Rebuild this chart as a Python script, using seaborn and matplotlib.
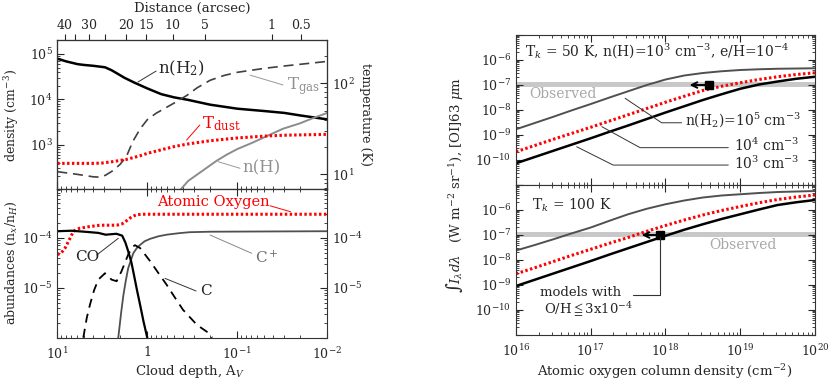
import numpy as np
import matplotlib
matplotlib.use("Agg")
import matplotlib.pyplot as plt
import matplotlib.ticker as mticker
import seaborn as sns

# ---- left panels: cloud depth profiles ----
h2_av = [10, 8, 6, 5.1, 4, 2.95, 2.5, 2.2, 1.8, 1.4, 1.0, 0.7, 0.5, 0.36, 0.2, 0.1, 0.05, 0.03, 0.02, 0.01]
h2_n = [7.9e4, 6.9e4, 6.0e4, 5.75e4, 5.5e4, 5.1e4, 4.4e4, 3.8e4, 3.0e4, 2.35e4, 1.74e4, 1.3e4,
        1.1e4, 9.8e3, 7.6e3, 6.2e3, 5.5e3, 5.0e3, 4.4e3, 3.6e3]

h_av = [0.45, 0.35, 0.26, 0.2, 0.17, 0.13, 0.1, 0.07, 0.05, 0.031, 0.02, 0.015, 0.01]
h_n = [90, 158, 240, 347, 437, 603, 794, 1070, 1450, 2240, 2950, 3720, 5010]

tgas_av = [10, 6, 4, 3.3, 2.9, 2.4, 2.0, 1.7, 1.45, 1.2, 1.0, 0.8, 0.6, 0.45, 0.36, 0.28, 0.2,
           0.14, 0.1, 0.05, 0.03, 0.01]
tgas_k = [10.7, 10.0, 9.4, 9.3, 9.8, 11.0, 12.9, 15.8, 22.9, 31.6, 39.8, 46.8, 55.0, 64.6, 74.1,
          89.1, 108, 122, 132, 146, 155, 174]

tdust_av = [10, 6, 4, 3.2, 2.4, 1.7, 1.2, 1.0, 0.7, 0.5, 0.36, 0.2, 0.1, 0.05, 0.03, 0.01]
tdust_k = [13.2, 13.2, 13.2, 13.3, 13.8, 14.6, 16.0, 17.0, 18.6, 20.2, 21.5, 23.4, 25.1, 26.3, 26.9, 27.5]

co_av = [10, 7, 5, 3.5, 2.9, 2.2, 1.9, 1.75, 1.63, 1.5, 1.43, 1.3, 1.2, 1.1, 1.0]
co_ab = [1.35e-4, 1.38e-4, 1.32e-4, 1.25e-4, 1.15e-4, 1.2e-4, 1.1e-4, 8.0e-5, 5.4e-5, 3.2e-5,
         2.1e-5, 8.9e-6, 4.5e-6, 2.1e-6, 1.0e-6]

o_av = [10, 9, 8.2, 7.4, 6.6, 6.0, 5.6, 4.5, 3.35, 2.6, 2.19, 1.9, 1.69, 1.5, 1.31, 1.1, 0.93, 0.5, 0.01]
o_ab = [4.6e-5, 5.0e-5, 6.2e-5, 8.9e-5, 1.35e-4, 1.48e-4, 1.55e-4, 1.66e-4, 1.78e-4, 1.78e-4,
        1.78e-4, 1.9e-4, 2.2e-4, 2.6e-4, 2.9e-4, 2.95e-4, 2.95e-4, 2.95e-4, 2.95e-4]

cp_av = [2.1, 1.95, 1.84, 1.73, 1.63, 1.5, 1.43, 1.3, 1.2, 1.07, 0.93, 0.75, 0.61, 0.45, 0.34, 0.2, 0.01]
cp_ab = [1e-6, 3.2e-6, 7.2e-6, 1.4e-5, 2.45e-5, 3.8e-5, 4.9e-5, 6.3e-5, 7.2e-5, 8.5e-5, 9.5e-5,
         1.07e-4, 1.15e-4, 1.23e-4, 1.29e-4, 1.32e-4, 1.35e-4]

c_av = [5.14, 4.7, 4.33, 3.9, 3.5, 2.95, 2.49, 2.19, 1.93, 1.63, 1.45, 1.37, 1.2, 0.93, 0.75, 0.61,
        0.5, 0.4, 0.28, 0.21, 0.19]
c_ab = [1e-6, 2.5e-6, 4.6e-6, 8.9e-6, 1.45e-5, 1.95e-5, 1.45e-5, 1.35e-5, 2.15e-5, 4.6e-5, 6.6e-5,
        7.1e-5, 6.2e-5, 3.4e-5, 1.95e-5, 1.15e-5, 6.6e-6, 3.6e-6, 1.8e-6, 1.26e-6, 1e-6]

# top axis: distance (arcsec) and the A_V where each tick sits
dist_av = [8.21, 6.36, 4.41, 2.95, 1.73, 1.02, 0.523, 0.229, 0.0415, 0.0198]
dist_lab = ["40", "", "30", "", "20", "15", "10", "5", "1", "0.5"]

# ---- right panels: log10 of [OI]63um intensity vs O column density ----
col_n = [1e16, 1.78e16, 3.16e16, 5.62e16, 1e17, 1.78e17, 3.16e17, 5.62e17, 1e18,
         1.78e18, 3.16e18, 5.62e18, 1e19, 1.78e19, 3.16e19, 5.62e19, 1e20]
log_i50_h2e5 = [-8.77, -8.52, -8.27, -8.01, -7.76, -7.50, -7.25, -7.00, -6.78,
                -6.62, -6.52, -6.45, -6.40, -6.37, -6.35, -6.34, -6.33]
log_i50_h2e4 = [-9.67, -9.42, -9.17, -8.93, -8.69, -8.44, -8.19, -7.94, -7.69,
                -7.45, -7.22, -7.05, -6.91, -6.78, -6.67, -6.58, -6.51]
log_i50_h2e3 = [-10.13, -9.88, -9.63, -9.38, -9.13, -8.87, -8.62, -8.36, -8.10,
                -7.85, -7.60, -7.37, -7.15, -6.98, -6.86, -6.75, -6.67]
log_i100_h2e5 = [-7.62, -7.40, -7.17, -6.93, -6.70, -6.43, -6.17, -5.95, -5.77,
                 -5.62, -5.50, -5.42, -5.37, -5.32, -5.28, -5.26, -5.24]
log_i100_h2e4 = [-8.55, -8.31, -8.06, -7.81, -7.57, -7.33, -7.10, -6.85, -6.62,
                 -6.40, -6.20, -6.02, -5.86, -5.71, -5.58, -5.48, -5.40]
log_i100_h2e3 = [-9.04, -8.79, -8.54, -8.29, -8.04, -7.78, -7.53, -7.28, -7.03,
                 -6.79, -6.57, -6.36, -6.17, -5.98, -5.80, -5.69, -5.60]

obs_lo, obs_hi = 8.5e-8, 1.35e-7
obs50_n, obs50_tip = 3.8e18, 2.1e18
obs100_n, obs100_tip = 8.5e17, 4.8e17
obs_i = 1e-7

sns.set_style("ticks")
plt.rcParams["font.family"] = ["DejaVu Serif"]
plt.rcParams["mathtext.fontset"] = "dejavuserif"
plt.rcParams["xtick.direction"] = "in"
plt.rcParams["ytick.direction"] = "in"
plt.rcParams["axes.edgecolor"] = "#333333"

RED = "#ff0000"
DGRAY = "#505050"
LGRAY = "#8c8c8c"
TXTGRAY = "#909090"

fig = plt.figure(figsize=(8.3, 3.81), dpi=100)
ax1 = fig.add_axes([0.069, 0.503, 0.3253, 0.392])
ax2 = fig.add_axes([0.069, 0.1136, 0.3253, 0.3895])
ax3 = fig.add_axes([0.6217, 0.5144, 0.3602, 0.3937])
ax4 = fig.add_axes([0.6217, 0.1207, 0.3602, 0.3937])


def pow_fmt(show):
    def f(v, pos):
        if v <= 0:
            return ""
        e = int(round(np.log10(v)))
        if e not in show:
            return ""
        return r"$10^{%d}$" % e
    return mticker.FuncFormatter(f)


def tick_setup(ax, axis="y"):
    a = ax.yaxis if axis == "y" else ax.xaxis
    a.set_minor_locator(mticker.LogLocator(base=10, subs=np.arange(2, 10), numticks=30))
    a.set_minor_formatter(mticker.NullFormatter())


# ---- top left: densities and temperatures ----
sns.lineplot(x=h2_av, y=h2_n, ax=ax1, color="black", lw=1.8, sort=False)
sns.lineplot(x=h_av, y=h_n, ax=ax1, color=LGRAY, lw=1.4, sort=False)
ax1.set_xscale("log")
ax1.set_yscale("log")
ax1.set_xlim(10, 0.01)
ax1.set_ylim(10 ** 2.01, 10 ** 5.31)
ax1.yaxis.set_major_locator(mticker.FixedLocator([1e2, 1e3, 1e4, 1e5]))
ax1.yaxis.set_major_formatter(pow_fmt([3, 4, 5]))
tick_setup(ax1)
tick_setup(ax1, "x")
ax1.xaxis.set_major_locator(mticker.FixedLocator([10, 1, 0.1, 0.01]))
ax1.tick_params(axis="x", bottom=True, top=False, labelbottom=False, length=5)
ax1.tick_params(axis="y", left=True, right=False, labelsize=9, length=5)
ax1.tick_params(which="minor", length=2.5)
ax1.set_xlabel("")
ax1.set_ylabel("")

ax1t = ax1.twinx()
sns.lineplot(x=tgas_av, y=tgas_k, ax=ax1t, color="#404040", lw=1.2, sort=False,
             linestyle=(0, (6, 3.5)))
sns.lineplot(x=tdust_av, y=tdust_k, ax=ax1t, color=RED, lw=2.2, sort=False,
             linestyle=(0, (0.8, 0.8)))
ax1t.set_yscale("log")
ax1t.set_ylim(6.84, 299)
ax1t.yaxis.set_major_locator(mticker.FixedLocator([10, 100]))
ax1t.yaxis.set_major_formatter(pow_fmt([1, 2]))
tick_setup(ax1t)
ax1t.tick_params(axis="y", right=True, labelsize=9, length=5)
ax1t.tick_params(which="minor", length=2.5)
ax1t.set_ylabel("temperature (K)", rotation=270, fontsize=9, labelpad=12)

ax1d = ax1.twiny()
ax1d.set_xscale("log")
ax1d.set_xlim(10, 0.01)
ax1d.xaxis.set_major_locator(mticker.FixedLocator(dist_av))
ax1d.xaxis.set_major_formatter(mticker.FixedFormatter(dist_lab))
ax1d.xaxis.set_minor_locator(mticker.NullLocator())
ax1d.tick_params(axis="x", direction="out", length=4, labelsize=9, pad=2)
ax1d.set_xlabel("Distance (arcsec)", fontsize=9.5, labelpad=5)

t = ax1.transAxes
ax1.text(0.373, 0.812, "n(H$_2$)", transform=t, fontsize=12, va="center", ha="left")
ax1.plot([0.299, 0.366], [0.719, 0.792], transform=t, color="#333333", lw=0.7)
ax1.text(0.851, 0.69, "T$_{\\rm gas}$", transform=t, fontsize=12, va="center", ha="left", color=TXTGRAY)
ax1.plot([0.714, 0.836], [0.765, 0.699], transform=t, color="#999999", lw=0.7)
ax1.text(0.535, 0.442, "T$_{\\rm dust}$", transform=t, fontsize=12, va="center", ha="left", color=RED)
ax1.plot([0.479, 0.528], [0.33, 0.431], transform=t, color=RED, lw=0.7)
ax1.text(0.687, 0.145, "n(H)", transform=t, fontsize=12, va="center", ha="left", color=TXTGRAY)
ax1.plot([0.596, 0.677], [0.185, 0.141], transform=t, color="#999999", lw=0.7)

# ---- bottom left: abundances ----
sns.lineplot(x=o_av, y=o_ab, ax=ax2, color=RED, lw=2.2, sort=False, linestyle=(0, (0.8, 0.8)))
sns.lineplot(x=cp_av, y=cp_ab, ax=ax2, color=DGRAY, lw=1.3, sort=False)
sns.lineplot(x=co_av, y=co_ab, ax=ax2, color="black", lw=1.6, sort=False)
sns.lineplot(x=c_av, y=c_ab, ax=ax2, color="black", lw=1.3, sort=False, linestyle=(0, (5, 3.5)))
ax2.set_xscale("log")
ax2.set_yscale("log")
ax2.set_xlim(10, 0.01)
ax2.set_ylim(1e-6, 9.3e-4)
ax2.yaxis.set_major_locator(mticker.FixedLocator([1e-6, 1e-5, 1e-4]))
ax2.yaxis.set_major_formatter(pow_fmt([-5, -4]))
tick_setup(ax2)
tick_setup(ax2, "x")
ax2.xaxis.set_major_locator(mticker.FixedLocator([10, 1, 0.1, 0.01]))
ax2.xaxis.set_major_formatter(mticker.FixedFormatter(["$10^{1}$", "1", "$10^{-1}$", "$10^{-2}$"]))
ax2.tick_params(axis="both", which="both", top=True, right=True, labelright=True, labelsize=9)
ax2.tick_params(which="major", length=5)
ax2.tick_params(which="minor", length=2.5)
ax2.tick_params(axis="x", pad=6)
ax2.set_xlabel("")
ax2.set_ylabel("")

t = ax2.transAxes
ax2.text(0.37, 0.912, "Atomic Oxygen", transform=t, fontsize=10.5, va="center", ha="left", color=RED)
ax2.plot([0.788, 0.864], [0.889, 0.849], transform=t, color=RED, lw=0.7)
ax2.text(0.065, 0.542, "CO", transform=t, fontsize=11, va="center", ha="left")
ax2.plot([0.146, 0.226], [0.557, 0.67], transform=t, color="#333333", lw=0.7)
ax2.text(0.732, 0.539, "C$^+$", transform=t, fontsize=11, va="center", ha="left", color="#707070")
ax2.plot([0.566, 0.72], [0.692, 0.569], transform=t, color="#888888", lw=0.7)
ax2.text(0.529, 0.315, "C", transform=t, fontsize=11, va="center", ha="left")
ax2.plot([0.399, 0.514], [0.4, 0.315], transform=t, color="#333333", lw=0.7)

# ---- right panels ----
panels = [
    (ax3, log_i50_h2e5, log_i50_h2e4, log_i50_h2e3, obs50_n, obs50_tip),
    (ax4, log_i100_h2e5, log_i100_h2e4, log_i100_h2e3, obs100_n, obs100_tip),
]
for ax, g5, g4, g3, sq, tip in panels:
    ax.axhspan(obs_lo, obs_hi, color="#c8c8c8", lw=0, zorder=0)
    sns.lineplot(x=col_n, y=10.0 ** np.array(g5), ax=ax, color=DGRAY, lw=1.4)
    sns.lineplot(x=col_n, y=10.0 ** np.array(g4), ax=ax, color=RED, lw=2.2, linestyle=(0, (0.8, 0.8)))
    sns.lineplot(x=col_n, y=10.0 ** np.array(g3), ax=ax, color="black", lw=1.8)
    ax.annotate("", xy=(tip, obs_i), xytext=(sq, obs_i),
                arrowprops=dict(arrowstyle="->", lw=1.4, color="black", shrinkA=0, shrinkB=0))
    ax.plot([sq], [obs_i], marker="s", ms=6, color="black", ls="none")
    ax.set_xscale("log")
    ax.set_yscale("log")
    ax.set_xlim(1e16, 1e20)
    ax.set_ylim(1e-11, 1e-5)
    ax.yaxis.set_major_locator(mticker.FixedLocator([10.0 ** e for e in range(-11, -4)]))
    ax.yaxis.set_major_formatter(pow_fmt([-10, -9, -8, -7, -6]))
    ax.xaxis.set_major_locator(mticker.FixedLocator([1e16, 1e17, 1e18, 1e19, 1e20]))
    ax.xaxis.set_major_formatter(pow_fmt([16, 17, 18, 19, 20]))
    tick_setup(ax)
    tick_setup(ax, "x")
    ax.tick_params(axis="both", which="both", top=True, right=True, labelsize=9)
    ax.tick_params(which="major", length=5)
    ax.tick_params(which="minor", length=2.5)
    ax.set_xlabel("")
    ax.set_ylabel("")

ax3.tick_params(labelbottom=False)
ax4.tick_params(axis="x", pad=6)

t = ax3.transAxes
ax3.text(0.03, 0.889, "T$_k$ = 50 K, n(H)=10$^3$ cm$^{-3}$, e/H=10$^{-4}$", transform=t,
         fontsize=10, va="center", ha="left")
ax3.text(0.043, 0.605, "Observed", transform=t, fontsize=10, va="center", ha="left", color="#a8a8a8")
ax3.text(0.565, 0.429, "n(H$_2$)=10$^5$ cm$^{-3}$", transform=t, fontsize=10, va="center", ha="left")
ax3.plot([0.365, 0.487, 0.554], [0.578, 0.415, 0.415], transform=t, color="#333333", lw=0.7)
ax3.text(0.73, 0.267, "10$^4$ cm$^{-3}$", transform=t, fontsize=10, va="center", ha="left")
ax3.plot([0.287, 0.415, 0.71], [0.389, 0.249, 0.249], transform=t, color="#333333", lw=0.7)
ax3.text(0.73, 0.145, "10$^3$ cm$^{-3}$", transform=t, fontsize=10, va="center", ha="left")
ax3.plot([0.203, 0.325, 0.71], [0.255, 0.133, 0.133], transform=t, color="#333333", lw=0.7)

t = ax4.transAxes
ax4.text(0.052, 0.867, "T$_k$ = 100 K", transform=t, fontsize=10, va="center", ha="left")
ax4.text(0.645, 0.6, "Observed", transform=t, fontsize=10, va="center", ha="left", color="#a8a8a8")
ax4.text(0.08, 0.285, "models with", transform=t, fontsize=9.5, va="center", ha="left")
ax4.text(0.095, 0.172, "O/H$\\leqq$3x10$^{-4}$", transform=t, fontsize=9.5, va="center", ha="left")
ax4.plot([0.482, 0.482, 0.392], [0.655, 0.267, 0.267], transform=t, color="#333333", lw=0.8)

# axis titles placed in figure coordinates
fig.text(0.014, 0.698, "density (cm$^{-3}$)", rotation=90, fontsize=9, va="center", ha="center")
fig.text(0.014, 0.31, "abundances (n$_x$/n$_H$)", rotation=90, fontsize=9, va="center", ha="center")
fig.text(0.229, 0.024, "Cloud depth, A$_V$", fontsize=9.5, va="center", ha="center")
fig.text(0.801, 0.024, "Atomic oxygen column density (cm$^{-2}$)", fontsize=9.5, va="center", ha="center")
fig.text(0.547, 0.514, r"$\int I_\lambda d\lambda$   (W m$^{-2}$ sr$^{-1}$), [OI]63 $\mu$m",
         rotation=90, fontsize=9.5, va="center", ha="center")

fig.savefig("out.png", dpi=100)
